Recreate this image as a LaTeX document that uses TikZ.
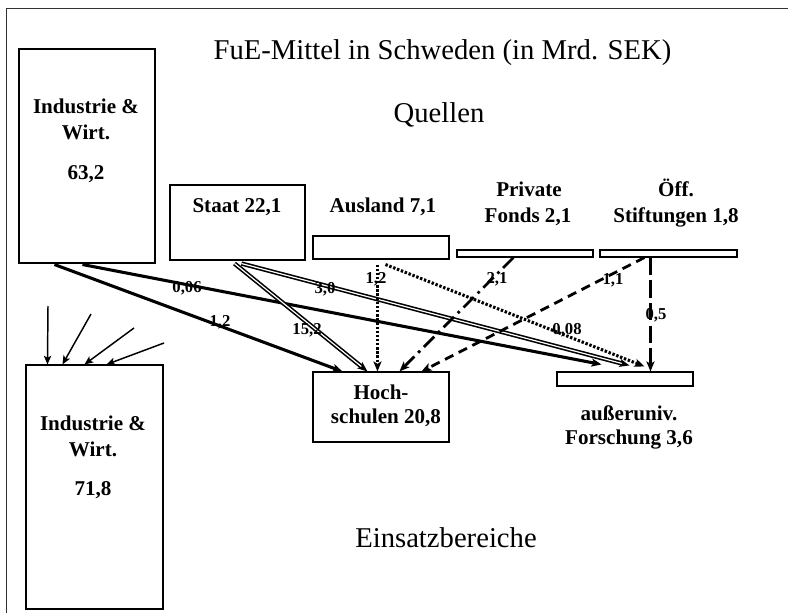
\documentclass[tikz,border=0pt]{standalone}
\usepackage{fontspec}
\setmainfont{Liberation Serif}
\usetikzlibrary{arrows.meta,fit,calc}
\begin{document}
\begin{tikzpicture}[x=0.75pt,y=-0.75pt,
  box/.style={draw, line width=0.8pt, inner sep=0pt},
  ttl/.style={font=\fontsize{21.5}{25}\selectfont, anchor=base, inner sep=0pt},
  lbl/.style={font=\fontsize{15.8}{19}\selectfont\bfseries, anchor=base, inner sep=0pt},
  val/.style={font=\fontsize{12.5}{14}\selectfont\bfseries, inner sep=0pt},
  flowtip/.style={-{Stealth[length=7.5pt,width=6pt,inset=1.8pt]}},
  solidflow/.style={flowtip, line width=2.3pt},
  dblflow/.style={flowtip, double, line width=1.2pt, double distance=0.9pt},
  dotflow/.style={flowtip, line width=2.3pt, dash pattern=on 1.8pt off 1.3pt},
  dashflow/.style={flowtip, line width=2.1pt, dash pattern=on 7pt off 4.5pt},
  longdashflow/.style={flowtip, line width=2.1pt, dash pattern=on 13pt off 4pt},
  dashdotflow/.style={flowtip, line width=2.1pt, dash pattern=on 11pt off 4pt on 2pt off 4pt},
  inflow/.style={-{Stealth[length=6.5pt,width=5.5pt,inset=1.5pt]}, line width=1.1pt},
]
\useasboundingbox (0,0) rectangle (788,613);
\fill[white] (0,0) rectangle (788,613);
% outer frame
\draw[line width=0.75pt, black!80] (6,613) -- (6,9) -- (788,9);

% titles
\node[ttl] (title) at (442.5,60) {FuE-Mittel in Schweden (in Mrd. SEK)};
\node[ttl] (quellen) at (439,123) {Quellen};
\node[ttl] (einsatz) at (446,547) {Einsatzbereiche};

% source boxes
\node[box, fit={(19,49) (155,263)}] (ind) {};
\node[box, fit={(170,185) (305,260)}] (staat) {};
\node[box, fit={(313,236) (449,259)}] (ausl) {};
\node[box, fit={(457,250) (593,257)}] (fonds) {};
\node[box, fit={(600,250) (737,257)}] (stift) {};
% target boxes
\node[box, fit={(313,372) (449,442)}] (hoch) {};
\node[box, fit={(557,372) (693,386)}] (ause) {};
\node[box, fit={(26,365) (163,609)}] (indt) {};

% box texts
\node[lbl] (indA) at (86,114) {Industrie \&};
\node[lbl] (indB) at (86,140) {Wirt.};
\node[lbl] (indC) at (86,179) {63,2};
\node[lbl] (staatT) at (237,212) {Staat 22,1};
\node[lbl] (auslT) at (383,212) {Ausland 7,1};
\node[lbl] (fondsA) at (529,196) {Private};
\node[lbl] (fondsB) at (528,222) {Fonds 2,1};
\node[lbl] (stiftA) at (676,196) {Öff.};
\node[lbl] (stiftB) at (676,222) {Stiftungen 1,8};
\node[lbl] (hochA) at (381,399) {Hoch-};
\node[lbl] (hochB) at (386,423) {schulen 20,8};
\node[lbl] (auseA) at (629,420) {außeruniv.};
\node[lbl] (auseB) at (629,444) {Forschung 3,6};
\node[lbl] (indtA) at (93,430) {Industrie \&};
\node[lbl] (indtB) at (93,456) {Wirt.};
\node[lbl] (indtC) at (93,495) {71,8};

% flows
\draw[solidflow] ($(ind.south west)+(36,1)$) -- ($(hoch.north west)+(30,0)$);
\draw[solidflow] ($(ind.south west)+(64,1)$) -- ($(ause.north west)+(45,-7)$);
\draw[dblflow] ($(staat.south west)+(65,3)$) -- ($(hoch.north west)+(55,0)$);
\draw[dblflow] ($(staat.south west)+(72,3)$) -- ($(ause.north west)+(73,-6)$);
\draw[dotflow] ($(ausl.south west)+(65,5)$) -- ($(hoch.north west)+(65,0)$);
\draw[dotflow] ($(ausl.south west)+(73,5)$) -- ($(ause.north west)+(88,-5)$);
\draw[dashdotflow] ($(fonds.south west)+(57,0)$) -- ($(hoch.north west)+(87,0)$);
\draw[dashflow] ($(stift.south west)+(45,0)$) -- ($(hoch.north west)+(109,0)$);
\draw[longdashflow] ($(stift.south west)+(51,0)$) -- ($(ause.north west)+(94,0)$);

% incoming arrows to target industry box
\coordinate (in1) at (48,306);
\coordinate (in2) at (91,314);
\coordinate (in3) at (134,328);
\coordinate (in4) at (164,343);
\draw[inflow] (in1) -- ($(indt.north west)+(22,0)$);
\draw[inflow] (in2) -- ($(indt.north west)+(37,0)$);
\draw[inflow] (in3) -- ($(indt.north west)+(59,0)$);
\draw[inflow] (in4) -- ($(indt.north west)+(81,0)$);

% flow values
\node[val] (v1) at (220,322) {1,2};
\node[val] (v2) at (187,288) {0,06};
\node[val] (v3) at (307,330) {15,2};
\node[val] (v4) at (325,289) {3,0};
\node[val] (v5) at (376,279) {1,2};
\node[val] (v6) at (567,330) {0,08};
\node[val] (v7) at (497,279) {2,1};
\node[val] (v8) at (613,280) {1,1};
\node[val] (v9) at (656,315) {0,5};
\end{tikzpicture}
\end{document}
